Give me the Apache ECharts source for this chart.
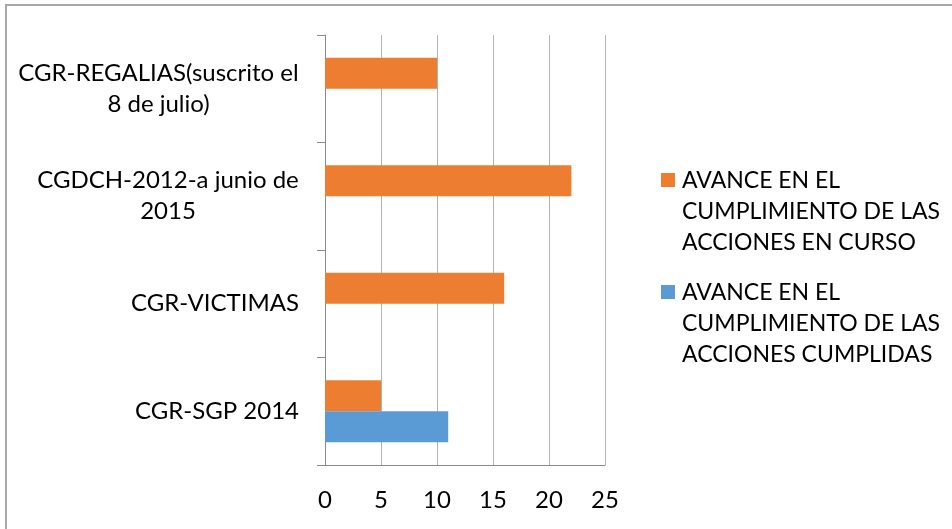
<!DOCTYPE html>
<html>
<head>
<meta charset="utf-8">
<script src="https://cdn.jsdelivr.net/npm/echarts@6/dist/echarts.min.js"></script>
<style>
  html, body { margin: 0; padding: 0; background: #fff; }
  #chart { width: 952px; height: 529px; }
</style>
</head>
<body>
<div id="chart"></div>
<script>
// Agreements, listed bottom to top on the category axis
const categories = [
  'CGR-SGP 2014',
  'CGR-VICTIMAS',
  'CGDCH-2012-a junio de\n2015',
  'CGR-REGALIAS(suscrito el\n8 de julio)'
];
const seriesNames = [
  'AVANCE EN EL\nCUMPLIMIENTO DE LAS\nACCIONES EN CURSO',
  'AVANCE EN EL\nCUMPLIMIENTO DE LAS\nACCIONES CUMPLIDAS'
];
const enCurso = [5, 16, 22, 10];
const cumplidas = [11, null, null, null];
const xTicks = { min: 0, max: 25, interval: 5 };

const FONT = 'Lato';
const LABEL_SIZE = 24;
const LEGEND_SIZE = 23;

// Each wrapped label is a right-aligned block whose lines are centred;
// one rich style per label carries the width of its widest line.
const ctx = document.createElement('canvas').getContext('2d');
ctx.font = LABEL_SIZE + 'px ' + FONT;
const labelRich = {};
categories.forEach((text, i) => {
  const w = Math.max(...text.split('\n').map(l => ctx.measureText(l).width));
  labelRich['c' + i] = {
    fontFamily: FONT,
    fontSize: LABEL_SIZE,
    lineHeight: 31,
    color: '#000',
    width: Math.ceil(w),
    align: 'center'
  };
});

const chart = echarts.init(document.getElementById('chart'));
chart.setOption({
  animation: false,
  backgroundColor: '#ffffff',
  textStyle: { fontFamily: FONT },
  graphic: [{
    type: 'rect',
    shape: { x: 6, y: 5, width: 2000, height: 2000 },
    style: { fill: 'none', stroke: '#a8a8a8', lineWidth: 2 },
    silent: true
  }],
  grid: { left: 325, top: 35, width: 280, height: 430 },
  legend: {
    orient: 'vertical',
    left: 661,
    top: 165,
    padding: 0,
    itemGap: 19,
    itemWidth: 14,
    itemHeight: 77,
    // square sits level with the first text line
    icon: 'path://M0,0h14v14h-14zM0,77',
    data: [seriesNames[0], seriesNames[1]],
    textStyle: {
      fontFamily: FONT,
      fontSize: LEGEND_SIZE,
      lineHeight: 31,
      color: '#000',
      padding: [0, 0, 0, 2]
    }
  },
  xAxis: {
    type: 'value',
    min: xTicks.min,
    max: xTicks.max,
    interval: xTicks.interval,
    axisLine: { show: true, lineStyle: { color: '#8a8a8a', width: 1 } },
    axisTick: { show: false },
    splitLine: { show: true, lineStyle: { color: '#b3b3b3', width: 1 } },
    axisLabel: {
      fontFamily: FONT,
      fontSize: LABEL_SIZE,
      color: '#000',
      margin: 23
    }
  },
  yAxis: {
    type: 'category',
    data: categories,
    axisLine: { show: true, lineStyle: { color: '#8a8a8a', width: 1 } },
    axisTick: { show: true, length: 8, lineStyle: { color: '#8a8a8a' } },
    axisLabel: {
      margin: 26,
      align: 'right',
      formatter: function (value, index) {
        return value.split('\n').map(l => '{c' + index + '|' + l + '}').join('\n');
      },
      rich: labelRich
    }
  },
  series: [
    {
      name: seriesNames[0],
      type: 'bar',
      data: enCurso,
      barWidth: 31,
      barGap: '0%',
      itemStyle: { color: '#ED7D31' }
    },
    {
      name: seriesNames[1],
      type: 'bar',
      data: cumplidas,
      barWidth: 31,
      barGap: '0%',
      itemStyle: { color: '#5B9BD5' }
    }
  ]
});
</script>
</body>
</html>
